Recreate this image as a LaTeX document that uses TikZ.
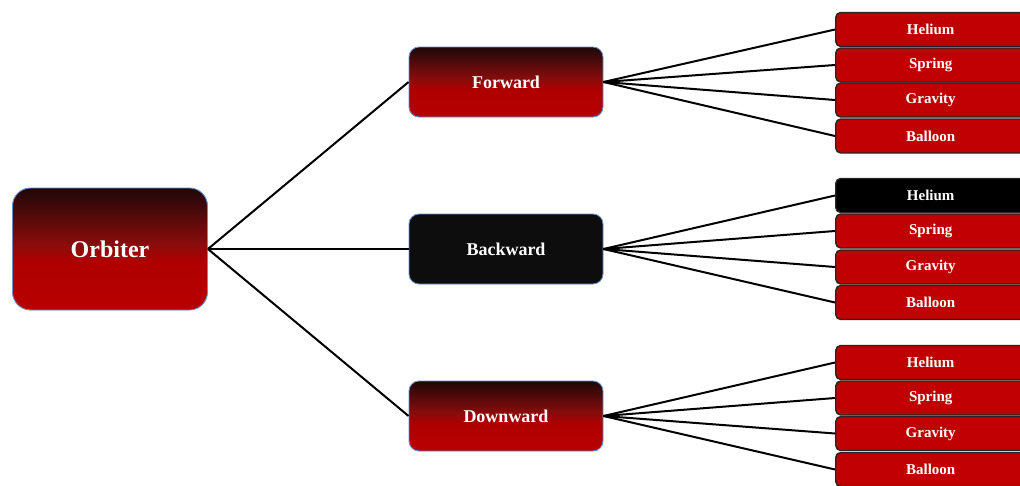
\documentclass[tikz,border=0pt]{standalone}
\usepackage{fontspec}
\setmainfont{Liberation Serif}
\definecolor{gtop}{HTML}{1E0808}
\definecolor{gmid}{HTML}{8A0C0C}
\definecolor{gbot}{HTML}{B80000}
\definecolor{bblue}{HTML}{6A8FC4}
\definecolor{leafred}{HTML}{C00000}
\definecolor{darkbox}{HTML}{0D0D0D}
\pgfdeclareverticalshading{redgrad}{100bp}{color(0bp)=(gbot); color(25bp)=(gbot); color(45bp)=(gbot!95!black); color(52bp)=(gmid); color(75bp)=(gtop); color(100bp)=(gtop)}
\tikzset{
  root/.style={draw=bblue, line width=0.9pt, rounded corners=18pt, shading=redgrad,
    minimum width=195pt, minimum height=122pt, text=white,
    font=\bfseries\fontsize{24}{24}\selectfont},
  midbase/.style={draw=bblue, line width=0.9pt, rounded corners=10pt,
    minimum width=194pt, minimum height=70pt, text=white,
    font=\bfseries\fontsize{18}{18}\selectfont},
  midbox/.style={midbase, shading=redgrad},
  midblack/.style={midbase, fill=darkbox},
  leaf/.style={draw=black!85, line width=1.4pt, rounded corners=5pt, fill=leafred,
    minimum width=190pt, minimum height=34pt, anchor=west, text=white,
    font=\bfseries\fontsize{15}{15}\selectfont},
  leafblack/.style={leaf, fill=black},
  link/.style={draw=black, line width=2pt}
}
\begin{document}
\begin{tikzpicture}[x=1pt,y=-1pt]
\useasboundingbox (0,0) rectangle (1020,485);
\node[root] (orb) at (110,249) {Orbiter};
\node[midbox] (fw) at (506,82) {Forward};
\node[midblack] (bw) at (506,249) {Backward};
\node[midbox] (dw) at (506,416) {Downward};
% group 1
\node[leaf] (f1) at (835,29.5) {Helium};
\node[leaf] (f2) at (835,65) {Spring};
\node[leaf] (f3) at (835,100) {Gravity};
\node[leaf] (f4) at (835,136) {Balloon};
% group 2
\node[leafblack] (b1) at (835,195.5) {Helium};
\node[leaf] (b2) at (835,231) {Spring};
\node[leaf] (b3) at (835,267) {Gravity};
\node[leaf] (b4) at (835,302.5) {Balloon};
% group 3
\node[leaf] (d1) at (835,362.5) {Helium};
\node[leaf] (d2) at (835,398) {Spring};
\node[leaf] (d3) at (835,433.5) {Gravity};
\node[leaf] (d4) at (835,469.5) {Balloon};
\draw[link] (orb.east) -- (fw.west);
\draw[link] (orb.east) -- (bw.west);
\draw[link] (orb.east) -- (dw.west);
\foreach \p/\q in {fw/f,bw/b,dw/d}{
  \foreach \i in {1,2,3,4}{
    \draw[link] (\p.east) -- (\q\i.west);
  }
}
\end{tikzpicture}
\end{document}
